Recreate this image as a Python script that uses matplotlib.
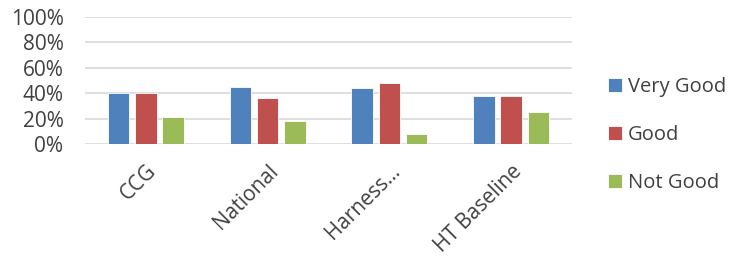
import matplotlib
matplotlib.use("Agg")
import matplotlib.pyplot as plt
import numpy as np

categories = ["CCG", "National", "Harness...", "HT Baseline"]
series_names = ["Very Good", "Good", "Not Good"]
very_good = [0.40, 0.45, 0.44, 0.38]
good = [0.40, 0.36, 0.48, 0.38]
not_good = [0.21, 0.18, 0.08, 0.25]
yticks = [0, 0.2, 0.4, 0.6, 0.8, 1.0]
ytick_labels = ["0%", "20%", "40%", "60%", "80%", "100%"]

colors = ["#4f81bd", "#c0504d", "#9bbb59"]
text_color = "#404040"
plt.rcParams['font.family'] = ['Open Sans', 'DejaVu Sans']

fig = plt.figure(figsize=(7.34, 2.60), dpi=100)
W, H = 734, 260
ax = fig.add_axes([85 / W, 1 - 144 / H, (572 - 85) / W, (144 - 17) / H])

x = np.arange(len(categories))
width = 0.177
offset = 0.224
handles = []
for i, (vals, name) in enumerate(zip([very_good, good, not_good], series_names)):
    b = ax.bar(x + (i - 1) * offset, vals, width, color=colors[i], label=name,
               edgecolor="white", linewidth=0.6, zorder=3)
    handles.append(b)

ax.set_xlim(-0.5, len(categories) - 0.5)
ax.set_ylim(0, 1.0)
ax.set_yticks(yticks)
ax.set_yticklabels(ytick_labels, fontsize=15, color=text_color)
ax.set_xticks(x)
ax.set_xticklabels(categories, rotation=45, ha="right", rotation_mode="anchor",
                   fontsize=15, color=text_color)
ax.tick_params(axis="both", length=0)
ax.tick_params(axis="y", pad=15.5)
ax.tick_params(axis="x", pad=12)
ax.yaxis.grid(True, color="#d9d9d9", linewidth=1.2, zorder=0)
for s in ax.spines.values():
    s.set_visible(False)
ax.set_axisbelow(True)

leg = fig.legend(handles=handles, labels=series_names, loc="center left",
                 bbox_to_anchor=(608 / W, 1 - 135 / H), frameon=False,
                 fontsize=14.5, labelspacing=1.4, handlelength=0.7,
                 handleheight=0.7, handletextpad=0.3, borderpad=0,
                 borderaxespad=0)
for t in leg.get_texts():
    t.set_color(text_color)

fig.savefig("out.png", dpi=100)
